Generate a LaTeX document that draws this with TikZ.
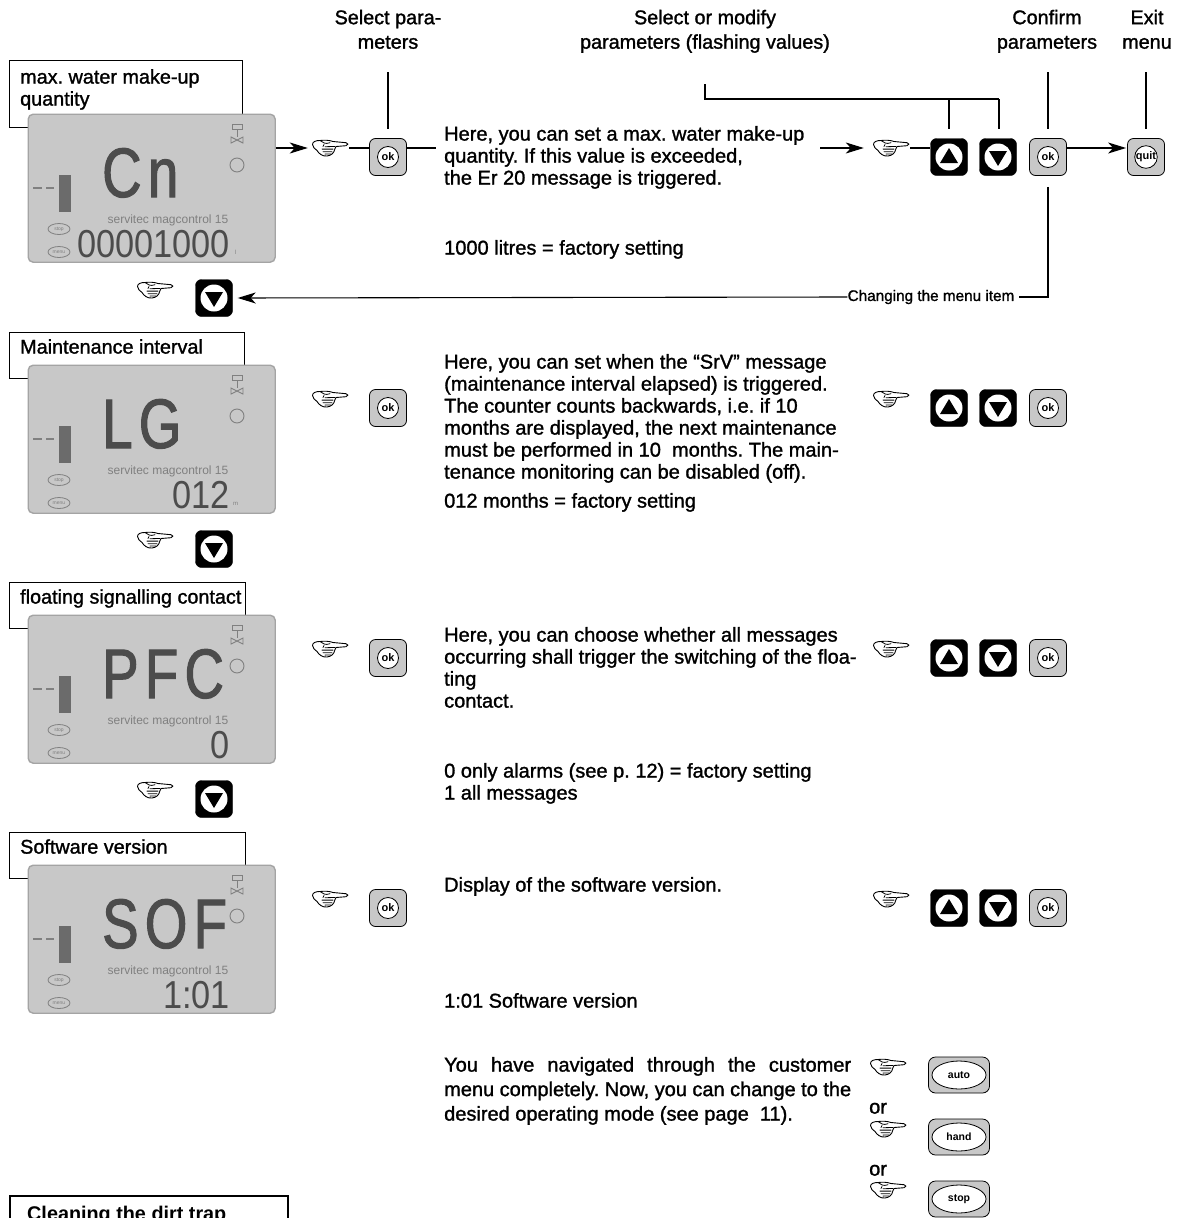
\documentclass[tikz,border=0pt]{standalone}
\usepackage{fontspec}
\usetikzlibrary{arrows.meta,shapes.geometric,calc}
\setmainfont{Liberation Sans}
\newfontfamily\txtfam[FakeBold=1.3]{Liberation Sans}
\newfontfamily\bigfam[FakeStretch=0.78,LetterSpace=9,FakeBold=1.5]{Liberation Sans}
\newfontfamily\digfam[FakeStretch=0.88]{Liberation Sans}
\newfontfamily\boldfam{Liberation Sans Bold}
\definecolor{lcdfill}{HTML}{C8C8C8}
\definecolor{lcdedge}{HTML}{A4A4A4}
\definecolor{lcdink}{HTML}{4C4C4C}
\definecolor{lcdsoft}{HTML}{808080}
\definecolor{keyfill}{HTML}{C8C8C8}
\newcommand{\hs}{\rule{0pt}{15.4pt}}
\tikzset{
  x=1pt,y=-1pt,
  para/.style={anchor=north west,inner sep=0pt,align=left,yshift=16pt,font=\txtfam\fontsize{20}{22}\selectfont},
  tabtxt/.style={para,font=\txtfam\fontsize{19.8}{22}\selectfont},
  paraw/.style={para,font=\txtfam\fontsize{20}{24.5}\selectfont},
  headtxt/.style={anchor=north,inner sep=0pt,align=center,yshift=15.4pt,font=\txtfam\fontsize{19.8}{24.5}\selectfont},
  tabbox/.style={draw=black,line width=0.9pt,fill=white,anchor=north west,inner sep=0pt},
  lcdbox/.style={draw=lcdedge,line width=1.4pt,fill=lcdfill,rounded corners=5pt,anchor=north west,minimum width=247pt,minimum height=148pt,inner sep=0pt},
  okkey/.style={draw=black,line width=0.8pt,fill=keyfill,rounded corners=6pt,minimum size=37pt,inner sep=0pt},
  arrowkey/.style={fill=black,draw=black,rounded corners=6pt,minimum size=37pt,inner sep=0pt},
  keydisc/.style={circle,fill=white,draw=black,line width=0.8pt,minimum size=21pt,inner sep=0pt,font=\boldfam\fontsize{11}{12}\selectfont},
  arrowdisc/.style={circle,fill=white,minimum size=27pt,inner sep=0pt},
  modekey/.style={draw=black,line width=0.8pt,fill=keyfill,rounded corners=7pt,minimum width=61pt,minimum height=36pt,inner sep=0pt},
  modeoval/.style={ellipse,draw=black,line width=0.8pt,fill=white,minimum width=54pt,minimum height=28pt,inner sep=0pt,font=\boldfam\fontsize{10.5}{11}\selectfont},
  handbox/.style={inner sep=0pt,minimum width=38pt,minimum height=19pt},
  conn/.style={draw=black,line width=1.1pt},
  arrowconn/.style={conn,-{Stealth[length=18pt,width=11pt,inset=5pt]}},
  lcdicon/.style={draw=lcdsoft,line width=0.9pt},
  handicon/.pic={
    \begin{scope}[shift={(-18,-8.5)}]
    \filldraw[fill=white,draw=black,line width=0.9pt,line join=round]
      (21,2) .. controls (17,0.5) and (12,0.5) .. (8,1)
      .. controls (4,1) and (0.5,2) .. (0.5,5)
      .. controls (0.5,8) and (3,9) .. (5,11)
      .. controls (7,14) and (10,17) .. (15,16.5)
      .. controls (19,16) and (22,14) .. (23,9)
      -- (24,7) -- (34,6.2)
      .. controls (36.5,6) and (36.5,3.2) .. (34,3.2)
      -- (21,2) -- cycle;
    \draw[black,line width=0.8pt,line cap=round]
      (8,1) .. controls (11,3) and (13,5) .. (18,3.2)
      (12,5) -- (11,7) (13,7.2) -- (23,7)
      (10,9.6) -- (21,9.6) (11,12.2) -- (20,12.2) (13,14.6) -- (19,14.4);
    \end{scope}
  }
}
\newcommand{\handat}[3]{\node[handbox] (#1) at (#2,#3) {}; \pic at (#1) {handicon};}
\newcommand{\okat}[4]{\node[okkey] (#1) at (#2,#3) {}; \node[keydisc] (#1d) at (#1) {#4};}
\newcommand{\upat}[3]{\node[arrowkey] (#1) at (#2,#3) {}; \node[arrowdisc] (#1d) at (#1) {};
  \fill[black] ([yshift=9pt]#1.center) -- ([shift={(-9pt,-6pt)}]#1.center) -- ([shift={(9pt,-6pt)}]#1.center) -- cycle;}
\newcommand{\downat}[3]{\node[arrowkey] (#1) at (#2,#3) {}; \node[arrowdisc] (#1d) at (#1) {};
  \fill[black] ([yshift=-9pt]#1.center) -- ([shift={(-9pt,6pt)}]#1.center) -- ([shift={(9pt,6pt)}]#1.center) -- cycle;}
\newcommand{\modeat}[4]{\node[modekey] (#1) at (#2,#3) {}; \node[modeoval] (#1o) at (#1) {#4};}
% id, top y, big text, digits, unit mark
\newcommand{\lcdunit}[5]{
  \begin{scope}[shift={(0,#2)}]
    \node[lcdbox] (lcd#1) at (27.5,0.5) {};
    \draw[lcdicon] (232,11) rectangle (242,16);
    \draw[lcdicon] (237,16) -- (237,24);
    \draw[lcdicon] (231,24) -- (243,30) -- (243,24) -- (231,30) -- cycle;
    \draw[lcdicon] (237,52) circle[radius=7];
    \draw[lcdsoft,line width=1.2pt] (33,75) -- (42,75) (46,75) -- (54,75);
    \fill[lcdink!75!lcdfill] (59,62) rectangle (71,99);
    \node[draw=lcdsoft,ellipse,line width=0.8pt,minimum width=22pt,minimum height=11pt,inner sep=0pt,text=lcdsoft,font=\fontsize{5}{6}\selectfont] (lcd#1stop) at (59,116) {stop};
    \node[draw=lcdsoft,ellipse,line width=0.8pt,minimum width=22pt,minimum height=11pt,inner sep=0pt,text=lcdsoft,font=\fontsize{5}{6}\selectfont] (lcd#1menu) at (59,139) {menu};
    \node[anchor=base,inner sep=0pt,text=lcdsoft,font=\fontsize{12}{13}\selectfont] (lcd#1brand) at (168,110) {servitec magcontrol 15};
    \node[anchor=base west,inner sep=0pt,text=lcdink,font=\bigfam\fontsize{70}{70}\selectfont] (lcd#1big) at (102,84) {#3};
    \node[anchor=base east,inner sep=0pt,text=lcdink,font=\digfam\fontsize{39}{39}\selectfont] (lcd#1dig) at (230,144) {#4};
    \node[anchor=base west,inner sep=0pt,text=lcdsoft,font=\fontsize{6}{7}\selectfont] (lcd#1unit) at (235,141) {#5};
  \end{scope}
}
\begin{document}
\frenchspacing
\begin{tikzpicture}
\clip (0,0) rectangle (1180,1218);
\fill[white] (0,0) rectangle (1180,1218);

% header labels
\node[headtxt] (hparam) at (388,24) {\hs Select para-\\meters};
\node[headtxt] (hmod) at (705,24) {\hs Select or modify\\parameters (flashing values)};
\node[headtxt] (hconf) at (1047,24) {\hs Confirm\\parameters};
\node[headtxt] (hexit) at (1147,24) {\hs Exit\\menu};

% tabs
\node[tabbox,minimum width=233pt,minimum height=67pt] (tab1) at (9,60) {};
\node[tabbox,minimum width=235pt,minimum height=46pt] (tab2) at (9,332) {};
\node[tabbox,minimum width=236pt,minimum height=46pt] (tab3) at (9,582) {};
\node[tabbox,minimum width=236pt,minimum height=46pt] (tab4) at (9,832) {};
\node[tabtxt] (tab1t) at (20,84) {\hs max. water make-up\\quantity};
\node[tabtxt] (tab2t) at (20,354) {\hs Maintenance interval};
\node[tabtxt] (tab3t) at (20,604) {\hs floating signalling contact};
\node[tabtxt] (tab4t) at (20,854) {\hs Software version};

% displays
\lcdunit{1}{113}{Cn}{00001000}{l}
\lcdunit{2}{364}{LG}{012}{}
\lcdunit{3}{614}{PFC}{0}{}
\lcdunit{4}{864}{SOF}{1:01}{}
\node[anchor=base west,inner sep=0pt,text=lcdsoft,font=\fontsize{6}{7}\selectfont] (lcd2m) at (233,505) {m};

% keys, row 1
\handat{h1}{330}{148}
\okat{ok1}{388}{157}{ok}
\handat{h1r}{891}{148}
\upat{up1}{949}{157}
\downat{dn1}{998}{157}
\okat{okc1}{1048}{157}{ok}
\okat{quit1}{1146}{157}{quit}
\handat{h1b}{155}{290}
\downat{nx1}{214}{298}

% row 2
\handat{h2}{330}{399}
\okat{ok2}{388}{408}{ok}
\handat{h2r}{891}{399}
\upat{up2}{949}{408}
\downat{dn2}{998}{408}
\okat{okc2}{1048}{408}{ok}
\handat{h2b}{155}{540}
\downat{nx2}{214}{549}

% row 3
\handat{h3}{330}{649}
\okat{ok3}{388}{658}{ok}
\handat{h3r}{891}{649}
\upat{up3}{949}{658}
\downat{dn3}{998}{658}
\okat{okc3}{1048}{658}{ok}
\handat{h3b}{155}{790}
\downat{nx3}{214}{799}

% row 4
\handat{h4}{330}{899}
\okat{ok4}{388}{908}{ok}
\handat{h4r}{891}{899}
\upat{up4}{949}{908}
\downat{dn4}{998}{908}
\okat{okc4}{1048}{908}{ok}

% mode keys
\handat{hm1}{888}{1067}
\modeat{auto1}{959}{1075}{auto}
\handat{hm2}{888}{1129}
\modeat{hand1}{959}{1137}{hand}
\handat{hm3}{888}{1190}
\modeat{stop1}{959}{1199}{stop}
\node[para] (or1) at (869,1114) {\hs or};
\node[para] (or2) at (869,1176) {\hs or};

% texts
\node[para] (t1) at (444,141) {\hs Here, you can set a max. water make-up\\quantity. If this value is exceeded,\\the Er 20 message is triggered.};
\node[para] (t1b) at (444,255) {\hs 1000 litres = factory setting};
\node[para] (t2) at (444,369) {\hs Here, you can set when the “SrV” message\\(maintenance interval elapsed) is triggered.\\The counter counts backwards, i.e. if 10\\months are displayed, the next maintenance\\must be performed in 10\ \ months. The main-\\tenance monitoring can be disabled (off).};
\node[para] (t2b) at (444,508) {\hs 012 months = factory setting};
\node[para] (t3) at (444,642) {\hs Here, you can choose whether all messages\\occurring shall trigger the switching of the floa-\\ting\\contact.};
\node[para] (t3b) at (444,778) {\hs 0 only alarms (see p. 12) = factory setting\\1 all messages};
\node[para] (t4) at (444,892) {\hs Display of the software version.};
\node[para] (t4b) at (444,1008) {\hs 1:01 Software version};
\node[paraw] (t5) at (444,1072) {\hs\makebox[407pt][s]{You have navigated through the customer}\\\makebox[407pt][s]{menu completely. Now, you can change to the}\\desired operating mode (see page\ \ 11).};

% connector label
\node[inner sep=0pt,font=\txtfam\fontsize{15.3}{16}\selectfont] (chg) at (931,297) {Changing the menu item};

% free ends
\coordinate (a1) at (436,148);
\coordinate (a2) at (820,148);
\coordinate (tpar) at (388,72);
\coordinate (tmod) at (705,84);
\coordinate (tmodc) at (705,99);
\coordinate (tup) at (949,99);
\coordinate (tdn) at (999,99);
\coordinate (tconf) at (1048,72);
\coordinate (texit) at (1146,72);

% connectors
\draw[arrowconn,shorten >=3pt] (lcd1.east |- h1.west) -- (h1.west);
\draw[conn] (h1.east) -- (ok1.west |- h1.east);
\draw[conn] (ok1.east |- a1) -- (a1);
\draw[arrowconn,shorten >=8pt] (a2) -- (h1r.west);
\draw[conn] (h1r.east) -- (up1.west |- h1r.east);
\draw[arrowconn,shorten >=1pt] (okc1.east |- h1r) -- (quit1.west |- h1r);
\draw[conn,shorten >=9pt] (tpar) -- (ok1.north);
\draw[conn] (tmod) -- (tmodc) -- (tdn);
\draw[conn,shorten >=9pt] (tup) -- (up1.north);
\draw[conn,shorten >=9pt] (tdn) -- (tdn |- dn1.north);
\draw[conn,shorten >=9pt] (tconf) -- (okc1.north);
\draw[conn,shorten >=9pt] (texit) -- (quit1.north);
\draw[conn,shorten <=11pt] (okc1.south) -- (okc1.south |- chg) -- ([xshift=4pt]chg.east);
\draw[arrowconn,shorten >=5pt] (chg.west) -- (nx1.east);

% cut-off box at the foot
\node[draw=black,line width=1.8pt,fill=white,anchor=north west,inner sep=0pt,minimum width=278pt,minimum height=50pt] (clean) at (9,1195) {};
\node[anchor=base west,inner sep=0pt,font=\boldfam\fontsize{19.8}{22}\selectfont] (cleant) at (27,1220) {Cleaning the dirt trap};
\end{tikzpicture}
\end{document}
